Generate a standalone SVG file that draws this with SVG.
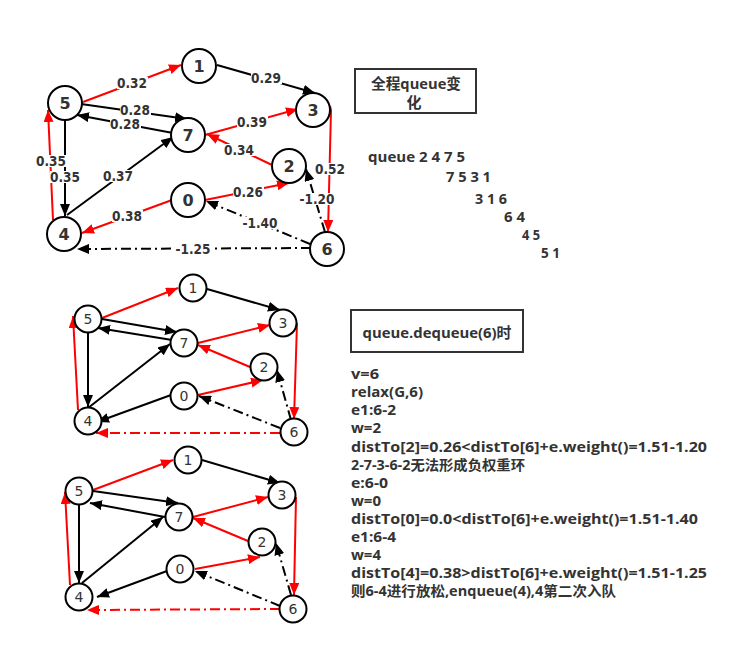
<svg xmlns="http://www.w3.org/2000/svg" width="743" height="655" viewBox="0 0 743 655">
<style>
.bg{fill:#fff}
.n circle{fill:#fff;stroke:#000;stroke-width:2}
.n text{font-family:"DejaVu Sans",sans-serif;font-weight:bold;font-size:16px;fill:#333;text-anchor:middle}
.s circle{fill:#fff;stroke:#000;stroke-width:2}
.s text{font-family:"DejaVu Sans",sans-serif;font-size:14px;fill:#333;text-anchor:middle}
.e{fill:none;stroke-width:2}
.k{stroke:#000;marker-end:url(#ak)}
.r{stroke:#f00;marker-end:url(#ar)}
.dd{stroke-dasharray:10,4,2,4}
.lb{fill:#fff}
.lbl{font-family:"DejaVu Sans",sans-serif;font-weight:bold;font-size:14px;fill:#333;text-anchor:middle}
.t{font-family:"Open Sans","Noto Sans CJK SC",sans-serif;font-weight:bold;font-size:14px;fill:#333}
.tb{font-family:"Open Sans","Noto Sans CJK SC",sans-serif;font-weight:bold;font-size:15px;fill:#333;text-anchor:middle}
.box{fill:#fff;stroke:#333;stroke-width:2}
</style>
<defs>
<marker id="ak" viewBox="0 0 12 10" refX="12" refY="5" markerWidth="12" markerHeight="10" markerUnits="userSpaceOnUse" orient="auto"><path d="M0,0L12,5L0,10z" fill="#000"/></marker>
<marker id="ar" viewBox="0 0 12 10" refX="12" refY="5" markerWidth="12" markerHeight="10" markerUnits="userSpaceOnUse" orient="auto"><path d="M0,0L12,5L0,10z" fill="#f00"/></marker>
</defs>
<rect class="bg" width="743" height="655"/>

<!-- Graph 1 connectors -->
<g id="edges1">
<line class="e r" x1="83" y1="102" x2="181" y2="65"/>
<line class="e k" x1="217" y1="65" x2="315" y2="93"/>
<line class="e k" x1="81" y1="104" x2="187" y2="119"/>
<line class="e k" x1="173" y1="133" x2="77" y2="115"/>
<line class="e r" x1="205" y1="135" x2="298" y2="109"/>
<line class="e r" x1="272" y1="165" x2="207" y2="134"/>
<polyline class="e r" points="330,106 331,110 328,232"/>
<line class="e k dd" x1="325" y1="232" x2="306" y2="169"/>
<line class="e k" x1="65" y1="119" x2="65" y2="216"/>
<line class="e r" x1="53" y1="220" x2="48" y2="110"/>
<line class="e k" x1="67" y1="215" x2="173" y2="137"/>
<line class="e r" x1="205" y1="200" x2="289" y2="183"/>
<line class="e r" x1="172" y1="200" x2="82" y2="233"/>
<line class="e k dd" x1="310" y1="244" x2="206" y2="201"/>
<line class="e k dd" x1="311" y1="248" x2="77" y2="249"/>
<rect class="lb" x="117" y="77" width="31" height="12"/><text class="lbl" x="132" y="88" textLength="30" lengthAdjust="spacingAndGlyphs">0.32</text>
<rect class="lb" x="251" y="72" width="31" height="12"/><text class="lbl" x="266" y="83" textLength="30" lengthAdjust="spacingAndGlyphs">0.29</text>
<rect class="lb" x="120" y="104" width="31" height="12"/><text class="lbl" x="135" y="115" textLength="30" lengthAdjust="spacingAndGlyphs">0.28</text>
<rect class="lb" x="110" y="118" width="31" height="12"/><text class="lbl" x="125" y="129" textLength="30" lengthAdjust="spacingAndGlyphs">0.28</text>
<rect class="lb" x="237" y="116" width="31" height="12"/><text class="lbl" x="252" y="127" textLength="30" lengthAdjust="spacingAndGlyphs">0.39</text>
<rect class="lb" x="224" y="144" width="31" height="12"/><text class="lbl" x="239" y="155" textLength="30" lengthAdjust="spacingAndGlyphs">0.34</text>
<rect class="lb" x="315" y="163" width="31" height="12"/><text class="lbl" x="330" y="174" textLength="30" lengthAdjust="spacingAndGlyphs">0.52</text>
<rect class="lb" x="299" y="193" width="36" height="12"/><text class="lbl" x="317" y="204" textLength="35" lengthAdjust="spacingAndGlyphs">-1.20</text>
<rect class="lb" x="36" y="155" width="31" height="12"/><text class="lbl" x="51" y="166" textLength="30" lengthAdjust="spacingAndGlyphs">0.35</text>
<rect class="lb" x="50" y="171" width="31" height="12"/><text class="lbl" x="65" y="182" textLength="30" lengthAdjust="spacingAndGlyphs">0.35</text>
<rect class="lb" x="103" y="170" width="31" height="12"/><text class="lbl" x="118" y="181" textLength="30" lengthAdjust="spacingAndGlyphs">0.37</text>
<rect class="lb" x="233" y="186" width="31" height="12"/><text class="lbl" x="248" y="197" textLength="30" lengthAdjust="spacingAndGlyphs">0.26</text>
<rect class="lb" x="112" y="210" width="31" height="12"/><text class="lbl" x="127" y="221" textLength="30" lengthAdjust="spacingAndGlyphs">0.38</text>
<rect class="lb" x="242" y="217" width="36" height="12"/><text class="lbl" x="260" y="228" textLength="35" lengthAdjust="spacingAndGlyphs">-1.40</text>
<rect class="lb" x="175" y="243" width="36" height="12"/><text class="lbl" x="193" y="254" textLength="35" lengthAdjust="spacingAndGlyphs">-1.25</text>
</g>
<g id="g1n1" class="n"><circle cx="199" cy="66" r="17"/><text x="199" y="72">1</text></g>
<g id="g1n5" class="n"><circle cx="65" cy="103" r="17"/><text x="65" y="109">5</text></g>
<g id="g1n3" class="n"><circle cx="313" cy="110" r="17"/><text x="313" y="116">3</text></g>
<g id="g1n7" class="n"><circle cx="188" cy="135" r="17"/><text x="188" y="141">7</text></g>
<g id="g1n2" class="n"><circle cx="289" cy="166" r="17"/><text x="289" y="172">2</text></g>
<g id="g1n0" class="n"><circle cx="188" cy="200" r="17"/><text x="188" y="206">0</text></g>
<g id="g1n4" class="n"><circle cx="64" cy="234" r="17"/><text x="64" y="240">4</text></g>
<g id="g1n6" class="n"><circle cx="327" cy="249" r="17"/><text x="327" y="255">6</text></g>

<!-- Graph 2 connectors -->
<g id="edges2">
<line class="e r" x1="102" y1="318" x2="178" y2="288"/>
<line class="e k" x1="207" y1="289" x2="280" y2="310"/>
<line class="e k" x1="102" y1="319" x2="177" y2="332"/>
<line class="e k" x1="172" y1="340" x2="98" y2="328"/>
<line class="e r" x1="198" y1="343" x2="270" y2="325"/>
<line class="e r" x1="250" y1="367" x2="198" y2="345"/>
<line class="e r" x1="297" y1="323" x2="294" y2="419"/>
<line class="e k dd" x1="291" y1="420" x2="277" y2="370"/>
<line class="e k" x1="88" y1="332" x2="88" y2="407"/>
<line class="e r" x1="78" y1="410" x2="73" y2="316"/>
<line class="e k" x1="88" y1="408" x2="170" y2="344"/>
<line class="e r" x1="198" y1="395" x2="263" y2="380"/>
<line class="e k" x1="171" y1="395" x2="97" y2="422"/>
<line class="e k dd" x1="280" y1="428" x2="199" y2="396"/>
<line class="e r dd" x1="280" y1="433" x2="96" y2="433"/>
</g>
<g id="g2n1" class="s"><circle cx="193" cy="288" r="13.5"/><text x="193" y="293">1</text></g>
<g id="g2n5" class="s"><circle cx="88" cy="319" r="13.5"/><text x="88" y="324">5</text></g>
<g id="g2n3" class="s"><circle cx="283" cy="323" r="13.5"/><text x="283" y="328">3</text></g>
<g id="g2n7" class="s"><circle cx="184" cy="343" r="13.5"/><text x="184" y="348">7</text></g>
<g id="g2n2" class="s"><circle cx="264" cy="367" r="13.5"/><text x="264" y="372">2</text></g>
<g id="g2n0" class="s"><circle cx="184" cy="396" r="13.5"/><text x="184" y="401">0</text></g>
<g id="g2n4" class="s"><circle cx="88" cy="421" r="13.5"/><text x="88" y="426">4</text></g>
<g id="g2n6" class="s"><circle cx="294" cy="432" r="13.5"/><text x="294" y="437">6</text></g>

<!-- Graph 3 connectors -->
<g id="edges3">
<line class="e r" x1="93" y1="490" x2="173" y2="460"/>
<line class="e k" x1="202" y1="460" x2="280" y2="483"/>
<line class="e k" x1="93" y1="491" x2="178" y2="503"/>
<line class="e k" x1="165" y1="517" x2="90" y2="503"/>
<line class="e r" x1="193" y1="517" x2="268" y2="497"/>
<line class="e r" x1="248" y1="541" x2="193" y2="518"/>
<line class="e r" x1="296" y1="497" x2="294" y2="595"/>
<line class="e k dd" x1="291" y1="595" x2="276" y2="543"/>
<line class="e k" x1="79" y1="503" x2="79" y2="583"/>
<line class="e r" x1="70" y1="585" x2="65" y2="492"/>
<line class="e k" x1="82" y1="583" x2="163" y2="517"/>
<line class="e r" x1="195" y1="569" x2="260" y2="557"/>
<line class="e k" x1="167" y1="571" x2="97" y2="597"/>
<line class="e k dd" x1="280" y1="606" x2="195" y2="571"/>
<line class="e r dd" x1="280" y1="609" x2="87" y2="610"/>
</g>
<g id="g3n1" class="s"><circle cx="188" cy="460" r="13.5"/><text x="188" y="465">1</text></g>
<g id="g3n5" class="s"><circle cx="79" cy="491" r="13.5"/><text x="79" y="496">5</text></g>
<g id="g3n3" class="s"><circle cx="282" cy="495" r="13.5"/><text x="282" y="500">3</text></g>
<g id="g3n7" class="s"><circle cx="179" cy="517" r="13.5"/><text x="179" y="522">7</text></g>
<g id="g3n2" class="s"><circle cx="262" cy="542" r="13.5"/><text x="262" y="547">2</text></g>
<g id="g3n0" class="s"><circle cx="180" cy="569" r="13.5"/><text x="180" y="574">0</text></g>
<g id="g3n4" class="s"><circle cx="79" cy="597" r="13.5"/><text x="79" y="602">4</text></g>
<g id="g3n6" class="s"><circle cx="293" cy="609" r="13.5"/><text x="293" y="614">6</text></g>

<!-- Box 1 -->
<g id="box1">
<rect class="box" x="355" y="69" width="121" height="44"/>
<text class="tb" x="416" y="89" textLength="90" lengthAdjust="spacingAndGlyphs">全程queue变</text>
<text class="tb" x="414" y="108">化</text>
</g>
<g id="queue-text">
<text class="t" x="368" y="162" textLength="97" lengthAdjust="spacingAndGlyphs">queue 2 4 7 5</text>
<text class="t" x="446" y="182" textLength="45" lengthAdjust="spacingAndGlyphs">7 5 3 1</text>
<text class="t" x="475" y="204" textLength="32" lengthAdjust="spacingAndGlyphs">3 1 6</text>
<text class="t" x="504" y="222" textLength="21" lengthAdjust="spacingAndGlyphs">6 4</text>
<text class="t" x="522" y="240" textLength="18" lengthAdjust="spacingAndGlyphs">4 5</text>
<text class="t" x="541" y="258" textLength="19" lengthAdjust="spacingAndGlyphs">5 1</text>
</g>

<!-- Box 2 -->
<g id="box2">
<rect class="box" x="351" y="310" width="172" height="42"/>
<text class="tb" x="437" y="338" textLength="149" lengthAdjust="spacingAndGlyphs">queue.dequeue(6)时</text>
</g>
<g id="steps">
<text class="t" x="351" y="379" textLength="28" lengthAdjust="spacingAndGlyphs">v=6</text>
<text class="t" x="351" y="397" textLength="72" lengthAdjust="spacingAndGlyphs">relax(G,6)</text>
<text class="t" x="351" y="415" textLength="45" lengthAdjust="spacingAndGlyphs">e1:6-2</text>
<text class="t" x="351" y="433" textLength="30" lengthAdjust="spacingAndGlyphs">w=2</text>
<text class="t" x="351" y="452" textLength="356" lengthAdjust="spacingAndGlyphs">distTo[2]=0.26&lt;distTo[6]+e.weight()=1.51-1.20</text>
<text class="t" x="351" y="470" textLength="174" lengthAdjust="spacingAndGlyphs">2-7-3-6-2无法形成负权重环</text>
<text class="t" x="351" y="488" textLength="37" lengthAdjust="spacingAndGlyphs">e:6-0</text>
<text class="t" x="351" y="506" textLength="30" lengthAdjust="spacingAndGlyphs">w=0</text>
<text class="t" x="351" y="524" textLength="347" lengthAdjust="spacingAndGlyphs">distTo[0]=0.0&lt;distTo[6]+e.weight()=1.51-1.40</text>
<text class="t" x="351" y="542" textLength="45" lengthAdjust="spacingAndGlyphs">e1:6-4</text>
<text class="t" x="351" y="560" textLength="30" lengthAdjust="spacingAndGlyphs">w=4</text>
<text class="t" x="351" y="578" textLength="356" lengthAdjust="spacingAndGlyphs">distTo[4]=0.38&gt;distTo[6]+e.weight()=1.51-1.25</text>
<text class="t" x="351" y="596" textLength="265" lengthAdjust="spacingAndGlyphs">则6-4进行放松,enqueue(4),4第二次入队</text>
</g>
</svg>
